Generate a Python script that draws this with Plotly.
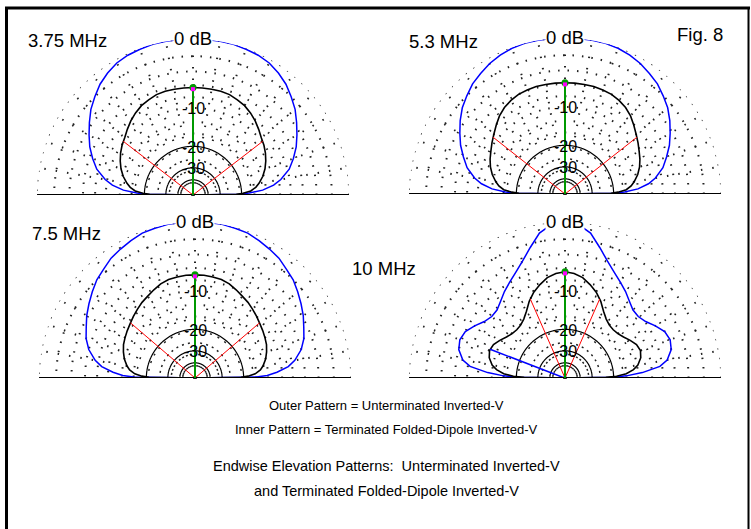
import numpy as np
import plotly.graph_objects as go

# elevation angles (deg above horizon) for the half patterns, 0..90
elev = [0, 1, 2, 4, 7, 10, 15, 20, 25, 30, 35, 40, 45, 50, 55, 60, 65, 70, 75, 80, 85, 90]

# gain in dB (0 dB = outer ring)
outer_375 = [-99, -21, -17.5, -13.8, -11.2, -9.6, -7.7, -6.5, -5.4, -4.5, -3.6, -2.7, -2.0, -1.3, -0.8, -0.4, -0.2, -0.1, 0, 0, 0, 0]
inner_375 = [-99, -22, -19.5, -17, -15.5, -14.5, -13.2, -12.2, -11.4, -10.7, -10.1, -9.6, -8.9, -8.2, -7.6, -7.1, -6.8, -6.5, -6.4, -6.4, -6.4, -6.4]

outer_53 = [-99, -20, -16.5, -13, -10.6, -9.1, -7.4, -6.3, -5.2, -4.3, -3.4, -2.6, -2.0, -1.4, -1.0, -0.6, -0.3, -0.1, 0, 0, 0, 0]
inner_53 = [-99, -21, -18.5, -16, -14.6, -13.7, -12.5, -11.6, -10.9, -10.3, -9.6, -8.9, -8.1, -7.3, -6.7, -6.3, -6.0, -5.9, -5.8, -5.8, -5.8, -5.8]

outer_75 = [-99, -16, -13.2, -11, -8.7, -7.4, -6.0, -5.1, -4.5, -3.8, -3.2, -2.6, -2.0, -1.6, -1.1, -0.8, -0.5, -0.2, -0.1, 0, 0, 0]
inner_75 = [-99, -21, -18.5, -16.3, -14.8, -14.0, -13.0, -12.3, -11.7, -11.3, -10.9, -10.5, -10.0, -9.5, -9.0, -8.6, -8.1, -7.6, -7.3, -7.2, -7.1, -7.1]

outer_10 = [-99, -20, -16, -12, -8.4, -7.0, -6.0, -5.7, -6.0, -6.9, -7.9, -8.4, -8.3, -7.6, -6.7, -5.9, -5.0, -3.9, -2.5, -1.0, -0.2, 0]
inner_10 = [-99, -23, -19, -16, -14, -12.8, -11.8, -11.4, -11.7, -12.5, -13.4, -14.0, -14.2, -14.0, -13.3, -12.1, -10.5, -9.2, -8.2, -7.3, -6.8, -6.6]

# stray segment on the 10 MHz plot (theta deg, dB)
stray_10_theta = [159, 180]
stray_10_db = [-11.4, -99]

# -3 dB beamwidth angle (elevation) of the inner pattern
red_elev = [37.6, 38.3, 40.5, 66.3]

freqs = ["3.75 MHz", "5.3 MHz", "7.5 MHz", "10 MHz"]
outers = [outer_375, outer_53, outer_75, outer_10]
inners = [inner_375, inner_53, inner_75, inner_10]

grid_dotted_db = [-2, -4, -6, -8, -10, -13, -16]
grid_solid_db = [-20, -30, -40]

W, H = 751, 529
# pixel centre and radius of every half plot
centers = [(193, 195, 156), (565, 194, 156), (195, 378, 156), (565, 378, 156)]
label_pos = [(67, 40), (443, 42), (66, 233), (384, 268)]


def arrl(db):
    # ARRL log-periodic scale: 0.89 per 2 dB
    return 0.89 ** (-np.asarray(db, dtype=float) / 2)


def mirror(half):
    th = list(elev) + [180 - e for e in elev[::-1][1:]]
    vals = list(half) + list(half[::-1][1:])
    return th, vals


def px(x, y):
    return x / W, 1 - y / H


def note(x, y, text, size, **kw):
    ax, ay = px(x, y)
    return dict(x=ax, y=ay, text=text, showarrow=False, xanchor="center", yanchor="middle",
                xref="paper", yref="paper",
                font=dict(family="Arial, Liberation Sans", size=size, color="black"), **kw)


fig = go.Figure()
annotations = []
dot_col = "#222222"

for i in range(4):
    pname = "polar" if i == 0 else "polar%d" % (i + 1)
    cx, cy, R = centers[i]
    full_th = np.linspace(0, 180, 361)

    # solid inner rings
    for db in grid_solid_db:
        fig.add_trace(go.Scatterpolar(r=[float(arrl(db))] * len(full_th), theta=full_th, mode="lines",
                                      line=dict(color="black", width=1.2), subplot=pname,
                                      showlegend=False, hoverinfo="skip"))
    # outer ring (dotted)
    fig.add_trace(go.Scatterpolar(r=[1.0] * len(full_th), theta=full_th, mode="lines",
                                  line=dict(color=dot_col, width=1.5, dash="1.5px,8px"), subplot=pname,
                                  showlegend=False, hoverinfo="skip"))

    th, ov = mirror(outers[i])
    fig.add_trace(go.Scatterpolar(r=arrl(ov), theta=th, mode="lines",
                                  line=dict(color="#0000ff", width=1.5), subplot=pname,
                                  showlegend=False, hoverinfo="skip"))
    th, iv = mirror(inners[i])
    fig.add_trace(go.Scatterpolar(r=arrl(iv), theta=th, mode="lines",
                                  line=dict(color="black", width=1.6), subplot=pname,
                                  showlegend=False, hoverinfo="skip"))
    if i == 3:
        fig.add_trace(go.Scatterpolar(r=arrl(stray_10_db), theta=stray_10_theta, mode="lines",
                                      line=dict(color="#0000ff", width=1.5), subplot=pname,
                                      showlegend=False, hoverinfo="skip"))

    # red beamwidth lines
    e = red_elev[i]
    r_red = float(arrl(np.interp(e, elev, inners[i])))
    fig.add_trace(go.Scatterpolar(r=[r_red, 0, r_red], theta=[180 - e, 90, e], mode="lines",
                                  line=dict(color="red", width=1), subplot=pname,
                                  showlegend=False, hoverinfo="skip"))
    # baseline
    fig.add_trace(go.Scatterpolar(r=[1, 1], theta=[0, 180], mode="lines",
                                  line=dict(color="black", width=2), subplot=pname,
                                  showlegend=False, hoverinfo="skip"))
    # green max line + markers
    r_max = float(arrl(inners[i][-1]))
    fig.add_trace(go.Scatterpolar(r=[0, r_max], theta=[90, 90], mode="lines",
                                  line=dict(color="#009900", width=2), subplot=pname,
                                  showlegend=False, hoverinfo="skip"))
    fig.add_trace(go.Scatterpolar(r=[r_max], theta=[90], mode="markers",
                                  marker=dict(color="#009900", size=7, symbol="circle"), subplot=pname,
                                  showlegend=False, hoverinfo="skip"))
    fig.add_trace(go.Scatterpolar(r=[r_max * 0.985], theta=[90], mode="markers",
                                  marker=dict(color="#ff00ff", size=4, symbol="square"), subplot=pname,
                                  showlegend=False, hoverinfo="skip"))

    x0, y0 = px(cx - R, cy)
    x1, y1 = px(cx + R, cy - R)
    fig.update_layout(**{pname: dict(
        domain=dict(x=[x0, x1], y=[y0, y1]),
        sector=[0, 180],
        bgcolor="white",
        radialaxis=dict(range=[0, 1], showline=False, showticklabels=False, ticks="",
                        tickmode="array", tickvals=[float(arrl(d)) for d in grid_dotted_db],
                        gridcolor=dot_col, gridwidth=1.5, griddash="1.5px,8px"),
        angularaxis=dict(showline=False, showticklabels=False, ticks="",
                         tickmode="array", tickvals=list(range(10, 180, 10)),
                         gridcolor=dot_col, gridwidth=1.5, griddash="1.5px,10px"),
    )})

    # text labels
    annotations.append(note(label_pos[i][0], label_pos[i][1], freqs[i], 18.5))
    annotations.append(note(cx, cy - R - 1, "0 dB", 18.5, bgcolor="white", borderpad=0))
    for db in [-10, -20, -30]:
        annotations.append(note(cx, cy - R * float(arrl(db)) + 1, str(db), 16))

annotations.append(note(700, 35, "Fig. 8", 18.5))

bottom_lines = [
    ("Outer Pattern = Unterminated Inverted-V", 405, 13),
    ("Inner Pattern = Terminated Folded-Dipole Inverted-V", 429, 13),
    ("Endwise Elevation Patterns:&nbsp; Unterminated Inverted-V", 466, 14.5),
    ("and Terminated Folded-Dipole Inverted-V", 491, 14.5),
]
for txt, y, size in bottom_lines:
    annotations.append(note(386, y, txt, size))

# frame (no bottom edge visible)
shapes = [
    dict(type="line", xref="paper", yref="paper", x0=6.5 / W, x1=6.5 / W, y0=1 - 7 / H, y1=-0.05,
         line=dict(color="black", width=3)),
    dict(type="line", xref="paper", yref="paper", x0=5 / W, x1=750 / W, y0=1 - 8 / H, y1=1 - 8 / H,
         line=dict(color="black", width=3)),
    dict(type="line", xref="paper", yref="paper", x0=748.5 / W, x1=748.5 / W, y0=1 - 7 / H, y1=-0.05,
         line=dict(color="black", width=2)),
]

fig.update_layout(width=W, height=H, margin=dict(l=0, r=0, t=0, b=0),
                  paper_bgcolor="white", plot_bgcolor="white",
                  annotations=annotations, shapes=shapes, showlegend=False)

fig.write_html("out.html", config={"displayModeBar": False},
               post_script="document.body.style.margin='0px';")
